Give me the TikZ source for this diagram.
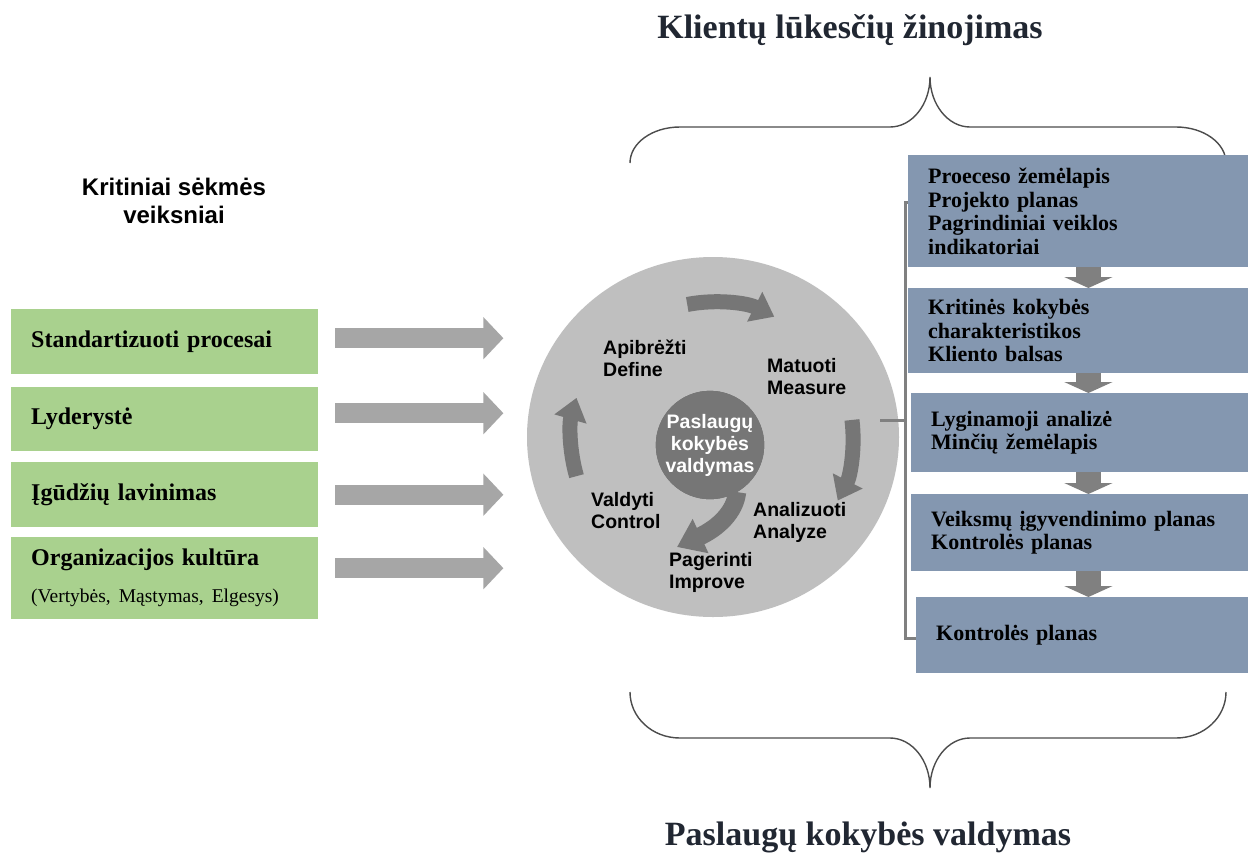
\documentclass[tikz,border=0pt]{standalone}
\usepackage{fontspec}
\setmainfont{Liberation Serif}
\setsansfont{Liberation Sans}
\usetikzlibrary{arrows.meta}
\usetikzlibrary{shapes.geometric}
\definecolor{leafgreen}{RGB}{169,209,142}
\definecolor{slateblue}{RGB}{132,151,176}
\definecolor{arrowgray}{RGB}{166,166,166}
\definecolor{arrowdark}{RGB}{128,128,128}
\definecolor{discgray}{RGB}{191,191,191}
\definecolor{coregray}{RGB}{118,118,118}
\definecolor{titleink}{RGB}{33,39,50}
\newcommand{\titlefont}{\fontsize{34}{40}\selectfont\bfseries}
\newcommand{\headfont}{\fontsize{24}{28}\selectfont\sffamily\bfseries}
\newcommand{\boxfont}{\fontsize{24}{28}\selectfont\bfseries}
\newcommand{\subfont}{\fontsize{19.5}{22}\selectfont\mdseries}
\newcommand{\stepfont}{\fontsize{22}{23.7}\selectfont\bfseries}
\newcommand{\lblfont}{\fontsize{19.5}{22}\selectfont\sffamily\bfseries}
% curly brace over / under the right half: end y, flat y, cusp y
\newcommand{\hbrace}[3]{%
  \draw[bracecurve] (630,#1) .. controls (630,{#2+0.45*(#1-#2)}) and (652,#2) .. (680,#2)
    -- (890,#2) .. controls (912,#2) and (930,{#2+0.45*(#3-#2)}) .. (930,#3)
    .. controls (930,{#2+0.45*(#3-#2)}) and (948,#2) .. (970,#2)
    -- (1176,#2) .. controls (1204,#2) and (1226,{#2+0.45*(#1-#2)}) .. (1226,#1);
}
% curved cycle arrow round the disc: start angle, end angle, radius
\newcommand{\cycarrow}[3]{%
  \draw[cyc] ([shift={(#1:#3)}]dmaic.center) arc[start angle=#1, end angle=#2, radius=#3];
}

\begin{document}
\begin{tikzpicture}[x=1pt, y=-1pt,
  greenbox/.style={anchor=north west, fill=leafgreen, inner xsep=20pt, inner ysep=0pt,
    text width=267pt, minimum height=#1, align=left, font=\boxfont},
  bluebox/.style 2 args={anchor=north west, fill=slateblue, inner xsep=20pt, inner ysep=0pt,
    text width=#1, minimum height=#2, align=left, font=\stepfont},
  blockarr/.style={arrowgray, line width=20pt, -{Triangle[length=20pt,width=41pt]}},
  downarr/.style={arrowdark, line width=25pt, -{Triangle[length=11pt,width=48pt]}},
  cyc/.style={coregray, line width=15pt, -{Triangle[length=22pt,width=32pt]}},
  phaselbl/.style={anchor=west, inner sep=0pt, align=left, font=\lblfont},
  bracecurve/.style={draw=black!70, line width=1.4pt},
  bline/.style={draw=arrowdark, line width=3pt}]
  \fill[white] (0,0) rectangle (1248,852);
  \useasboundingbox (0,0) rectangle (1248,852);

  % titles and braces
  \node[anchor=base, font=\titlefont, text=titleink] (ttop) at (850,38) {Klientų lūkesčių žinojimas};
  \node[anchor=base, font=\titlefont, text=titleink] (tbot) at (868,845) {Paslaugų kokybės valdymas};
  \hbrace{163}{127}{77}
  \hbrace{692}{738}{788}

  % left column
  \node[align=center, font=\headfont] (csf) at (174,201) {Kritiniai sėkmės\\veiksniai};
  \node[greenbox=65pt] (std) at (11,309) {Standartizuoti procesai};
  \node[greenbox=64pt] (lyd) at (11,387) {Lyderystė};
  \node[greenbox=65pt] (igd) at (11,462) {Įgūdžių lavinimas};
  \node[greenbox=82pt] (org) at (11,537) {Organizacijos kultūra\\[9pt]{\subfont (Vertybės, Mąstymas, Elgesys)}};
  \foreach \b/\dy in {std/3.5,lyd/6,igd/0,org/10}
    \draw[blockarr] ([xshift=17pt, yshift=\dy pt]\b.east) -- ([xshift=185pt, yshift=\dy pt]\b.east);

  % disc with the cycle
  \node[ellipse, fill=discgray, minimum width=372pt, minimum height=360pt, inner sep=0pt] (dmaic) at (713,437) {};
  \foreach \a/\e/\r in {-101/-63/135, -7/27/140, 164/196/142}
    \cycarrow{\a}{\e}{\r}
  \node[circle, fill=coregray, minimum size=108pt, inner sep=0pt, text=white, align=center,
    font=\lblfont] (core) at (710,445) {Paslaugų\\kokybės\\valdymas};
  \coordinate (imprtip) at (677,547);
  \draw[cyc, line width=18pt, -{Triangle[length=26pt,width=36pt]}]
    (core.-60) .. controls (735,512) and (718,528) .. (imprtip);
  \node[phaselbl] (def) at (603,358) {Apibrėžti\\Define};
  \node[phaselbl] (meas) at (767,377) {Matuoti\\Measure};
  \node[phaselbl] (ctrl) at (591,511) {Valdyti\\Control};
  \node[phaselbl] (anl) at (753,522) {Analizuoti\\Analyze};
  \node[phaselbl] (impr) at (669,572) {Pagerinti\\Improve};

  % bracket from the disc to the tool boxes
  \coordinate (btop) at (916,202);
  \coordinate (bbot) at (916,638);
  \coordinate (bmid) at (880,420);
  \draw[bline] (btop) -- (905,202) -- (905,638) -- (bbot);
  \draw[bline] (bmid) -- (905,420);

  % right column
  \node[bluebox={300pt}{112pt}] (p1) at (908,155) {Proeceso žemėlapis\\Projekto planas\\Pagrindiniai veiklos\\indikatoriai};
  \node[bluebox={300pt}{85pt}] (p2) at (908,288) {Kritinės kokybės\\charakteristikos\\Kliento balsas};
  \node[bluebox={297pt}{79pt}] (p3) at (911,393) {Lyginamoji analizė\\Minčių žemėlapis};
  \node[bluebox={297pt}{77pt}] (p4) at (911,494) {Veiksmų įgyvendinimo planas\\Kontrolės planas};
  \node[bluebox={292pt}{76pt}] (p5) at (916,597) {Kontrolės planas};
  \foreach \a/\b in {p1/p2,p2/p3,p3/p4,p4/p5}
    \draw[downarr] ([xshift=-160pt]\a.south east) -- ([xshift=-160pt]\b.north east);
\end{tikzpicture}
\end{document}
